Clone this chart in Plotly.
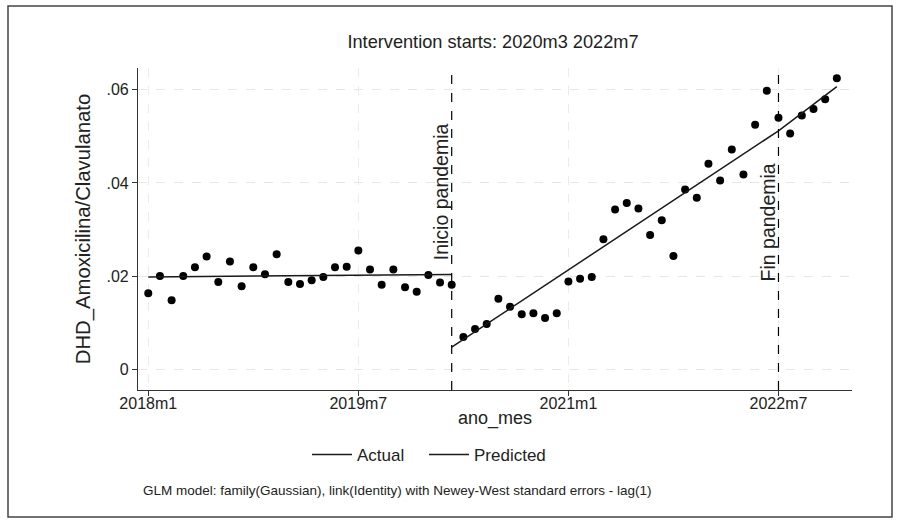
import plotly.graph_objects as go

# ---- data ----
months = list(range(60))  # 0 = 2018m1 ... 59 = 2022m12
actual = [0.0163, 0.0200, 0.0148, 0.0200, 0.0219, 0.0242, 0.0187, 0.0231, 0.0178, 0.0219,
          0.0204, 0.0247, 0.0187, 0.0183, 0.0191, 0.0198, 0.0219, 0.0220, 0.0255, 0.0214,
          0.0181, 0.0214, 0.0176, 0.0166, 0.0202, 0.0186, 0.0181, 0.0069, 0.0086, 0.0097,
          0.0151, 0.0134, 0.0118, 0.0120, 0.0110, 0.0120, 0.0188, 0.0194, 0.0198, 0.0279,
          0.0343, 0.0357, 0.0345, 0.0288, 0.0320, 0.0243, 0.0386, 0.0368, 0.0441, 0.0405,
          0.0472, 0.0418, 0.0525, 0.0598, 0.0540, 0.0506, 0.0545, 0.0559, 0.0580, 0.0625]
pred_x = [0, 26, None, 26, 54, 59]
pred_y = [0.0198, 0.0203, None, 0.0047, 0.0512, 0.0607]
interventions = [26, 54]
intervention_labels = ["Inicio pandemia", "Fin pandemia"]
label_y = [0.0230, 0.0185]
tick_vals = [0, 18, 36, 54]
tick_text = ["2018m1", "2019m7", "2021m1", "2022m7"]
y_ticks = [0, 0.02, 0.04, 0.06]
y_tick_text = ["0", ".02", ".04", ".06"]

FONT = "Liberation Sans, Arial, sans-serif"
L, R, T, B = 138, 48, 68, 134
PW, PH = 900 - L - R, 524 - T - B

fig = go.Figure()
fig.add_trace(go.Scatter(x=months, y=actual, mode="markers",
                         marker=dict(color="black", size=8), showlegend=False,
                         name="Actual"))
fig.add_trace(go.Scatter(x=pred_x, y=pred_y, mode="lines",
                         line=dict(color="#1a1a1a", width=1.5), showlegend=False,
                         name="Predicted"))
# legend entries (Stata style: both shown as lines)
fig.add_trace(go.Scatter(x=[None], y=[None], mode="lines",
                         line=dict(color="#1a1a1a", width=1.5), name="Actual",
                         legend="legend"))
fig.add_trace(go.Scatter(x=[None], y=[None], mode="lines",
                         line=dict(color="#1a1a1a", width=1.5), name="Predicted",
                         legend="legend2"))

for xv, lab, ly in zip(interventions, intervention_labels, label_y):
    fig.add_shape(type="line", x0=xv, x1=xv, y0=0, y1=1, xref="x", yref="y domain",
                  line=dict(color="black", width=1.2, dash="dash"))
    fig.add_annotation(x=xv, y=ly, xref="x", yref="y",
                       text=lab, textangle=-90, showarrow=False,
                       xanchor="right", yanchor="bottom", xshift=2,
                       font=dict(size=19.5, color="#222", family=FONT))

fig.add_shape(type="rect", xref="paper", yref="paper",
              x0=(8 - L) / PW, x1=(892 - L) / PW,
              y0=-(517 - (T + PH)) / PH, y1=1 + (T - 6) / PH,
              line=dict(color="#444", width=1.5), fillcolor="rgba(0,0,0,0)", layer="below")

leg_common = dict(orientation="h", xanchor="left",
                  y=-(455 - (T + PH)) / PH, yanchor="middle",
                  font=dict(size=17, family=FONT), itemwidth=40,
                  bgcolor="rgba(0,0,0,0)")

fig.update_layout(
    width=900, height=524,
    paper_bgcolor="white", plot_bgcolor="white",
    margin=dict(l=L, r=R, t=T, b=B, autoexpand=False),
    font=dict(family=FONT, color="#222", size=16),
    title=dict(text="Intervention starts: 2020m3 2022m7", x=(493 - L) / PW, xref="paper",
               xanchor="center", y=1 - 42 / 524, yanchor="middle",
               font=dict(size=18.2, family=FONT)),
    legend=dict(x=(307 - L) / PW, **leg_common),
    legend2=dict(x=(424 - L) / PW, **leg_common),
)

fig.update_xaxes(range=[-0.88, 60.3], tickvals=tick_vals, ticktext=tick_text,
                 showline=True, linecolor="#333", linewidth=1.2, mirror=False,
                 ticks="outside", ticklen=5, tickcolor="#333", ticklabelstandoff=-6,
                 showgrid=True, gridcolor="#ececec", griddash="dash", gridwidth=1,
                 zeroline=False, title=dict(text="ano_mes", font=dict(size=18), standoff=0),
                 tickfont=dict(size=16))
fig.update_yaxes(range=[-0.0045, 0.0647], tickvals=y_ticks, ticktext=y_tick_text,
                 showline=True, linecolor="#333", linewidth=1.2,
                 ticks="outside", ticklen=5, tickcolor="#333",
                 showgrid=True, gridcolor="#e6e6e6", griddash="dash", gridwidth=1,
                 zeroline=False,
                 title=dict(text="DHD_Amoxicilina/Clavulanato", font=dict(size=20.3), standoff=10),
                 tickfont=dict(size=16))

fig.add_annotation(x=(141 - L) / PW, y=-(490 - (T + PH)) / PH, xref="paper", yref="paper",
                   text="GLM model: family(Gaussian), link(Identity) with Newey-West standard errors - lag(1)",
                   showarrow=False, xanchor="left", yanchor="middle",
                   font=dict(size=13.5, family=FONT, color="#222"))

fig.write_html("out.html", config={"displayModeBar": False},
               post_script="document.body.style.margin='0';document.body.style.padding='0';")
